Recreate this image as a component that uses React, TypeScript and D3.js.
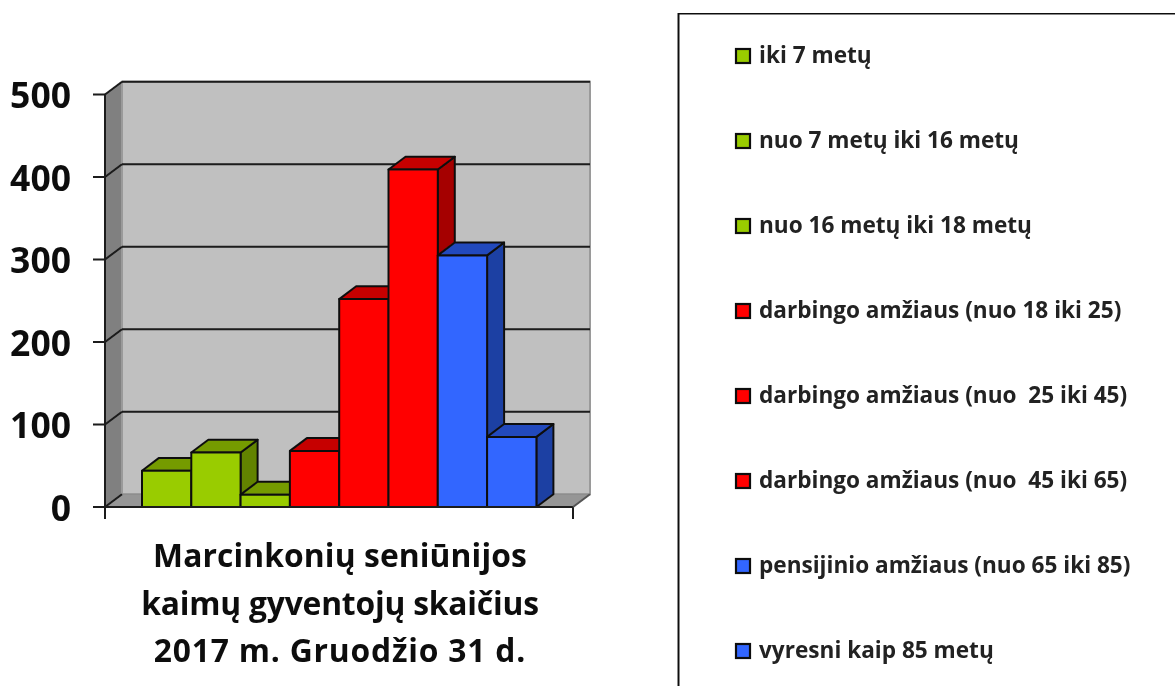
import React from "react";
import * as d3 from "d3";

const seriesNames = [
  "iki 7 metų",
  "nuo 7 metų iki 16 metų",
  "nuo 16 metų iki 18 metų",
  "darbingo amžiaus (nuo 18 iki 25)",
  "darbingo amžiaus (nuo  25 iki 45)",
  "darbingo amžiaus (nuo  45 iki 65)",
  "pensijinio amžiaus (nuo 65 iki 85)",
  "vyresni kaip 85 metų",
];
const seriesValues = [44, 66, 15, 68, 252, 409, 305, 85];
const seriesGroups = ["g", "g", "g", "r", "r", "r", "b", "b"];
const yTicks = [0, 100, 200, 300, 400, 500];
const titleLines = [
  "Marcinkonių seniūnijos",
  "kaimų gyventojų skaičius",
  "2017 m. Gruodžio 31 d.",
];
const titleSpacing = [0.1, -0.2, 0.8];

const palette: Record<string, { front: string; top: string; side: string }> = {
  g: { front: "#99cc00", top: "#749b00", side: "#628300" },
  r: { front: "#ff0000", top: "#c60000", side: "#a50000" },
  b: { front: "#3366ff", top: "#2449bd", side: "#1f3fa3" },
};

const FONT = "'Open Sans', 'Noto Sans', sans-serif";
const DX = 17;
const DY = -12.8;
const STROKE = "#1a1a1a";

const y = d3.scaleLinear().domain([0, 500]).range([507, 94.5]);
const xFrame = { left: 105, right: 573 };
const x = d3
  .scaleBand<number>()
  .domain(d3.range(seriesValues.length))
  .range([142, 536.4]);
const legendY = d3
  .scalePoint<number>()
  .domain(d3.range(seriesNames.length))
  .range([55, 650]);

const poly = (pts: [number, number][]) => pts.map((p) => p.join(",")).join(" ");

export default function App() {
  const base = y(0);
  const top = y(500);
  return (
    <svg
      width={1175}
      height={686}
      style={{ position: "absolute", left: 0, top: 0, display: "block", background: "#fff" }}
    >
      <defs>
        <filter id="soft" x="0" y="0" width="100%" height="100%">
          <feGaussianBlur stdDeviation="0.45" />
        </filter>
      </defs>
      <g filter="url(#soft)">
        {/* left wall */}
        <polygon
          points={poly([
            [xFrame.left, base],
            [xFrame.left + DX, base + DY],
            [xFrame.left + DX, top + DY],
            [xFrame.left, top],
          ])}
          fill="#808080"
        />
        {/* back wall */}
        <rect
          x={xFrame.left + DX}
          y={top + DY}
          width={xFrame.right - xFrame.left}
          height={base - top}
          fill="#c0c0c0"
          stroke="#9a9a9a"
          strokeWidth={2}
        />
        {/* floor */}
        <polygon
          points={poly([
            [xFrame.left, base],
            [xFrame.right, base],
            [xFrame.right + DX, base + DY],
            [xFrame.left + DX, base + DY],
          ])}
          fill="#969696"
          stroke="#8a8a8a"
        />
        {/* gridlines */}
        {yTicks.map((t) => (
          <g key={t} fill="none" stroke={STROKE} strokeWidth={2}>
            <line x1={xFrame.left - 12} x2={xFrame.left} y1={y(t)} y2={y(t)} />
            <line x1={xFrame.left} x2={xFrame.left + DX} y1={y(t)} y2={y(t) + DY} />
            {t > 0 && (
              <line x1={xFrame.left + DX} x2={xFrame.right + DX} y1={y(t) + DY} y2={y(t) + DY} />
            )}
          </g>
        ))}
        {/* axis */}
        <line x1={xFrame.left} x2={xFrame.left} y1={top} y2={base + 12} stroke={STROKE} strokeWidth={2} />
        {/* bars */}
        {seriesValues.map((v, i) => {
          const x0 = x(i)!;
          const x1 = x0 + x.bandwidth();
          const yv = y(v);
          const c = palette[seriesGroups[i]];
          return (
            <g key={i} stroke="#111" strokeWidth={2} strokeLinejoin="round">
              <polygon
                points={poly([
                  [x1, base],
                  [x1 + DX, base + DY],
                  [x1 + DX, yv + DY],
                  [x1, yv],
                ])}
                fill={c.side}
              />
              <polygon
                points={poly([
                  [x0, yv],
                  [x0 + DX, yv + DY],
                  [x1 + DX, yv + DY],
                  [x1, yv],
                ])}
                fill={c.top}
              />
              <rect x={x0} y={yv} width={x1 - x0} height={base - yv} fill={c.front} />
            </g>
          );
        })}
        {/* base axis on top */}
        <g stroke={STROKE} strokeWidth={2}>
          <line x1={xFrame.left} x2={xFrame.right} y1={base} y2={base} />
          <line x1={xFrame.right} x2={xFrame.right} y1={base} y2={base + 12} />
          <line x1={xFrame.right} x2={xFrame.right + DX} y1={base} y2={base + DY} stroke="#555" />
        </g>
        {/* y labels */}
        {yTicks.map((t) => (
          <text
            key={t}
            x={71}
            y={y(t) + 13.5}
            textAnchor="end"
            fontFamily={FONT}
            fontWeight={700}
            fontSize={35.5}
            fill="#111"
          >
            {t}
          </text>
        ))}
        {/* title */}
        {titleLines.map((l, i) => (
          <text
            key={l}
            x={340}
            y={567 + i * 47.5}
            textAnchor="middle"
            fontFamily={FONT}
            fontWeight={700}
            fontSize={31.8}
            letterSpacing={titleSpacing[i]}
            fill="#111"
          >
            {l}
          </text>
        ))}
        {/* legend */}
        <rect x={678.5} y={13.5} width={520} height={700} fill="#fff" stroke="#111" strokeWidth={2} />
        {seriesNames.map((n, i) => {
          const ly = legendY(i)!;
          return (
            <g key={i}>
              <rect
                x={736}
                y={ly - 6}
                width={14}
                height={14}
                fill={palette[seriesGroups[i]].front}
                stroke="#111"
                strokeWidth={2.2}
              />
              <text
                x={759}
                y={ly + 8}
                xmlSpace="preserve"
                style={{ whiteSpace: "pre" }}
                fontFamily={FONT}
                fontWeight={700}
                fontSize={22.6}
                fill="#222"
              >
                {n}
              </text>
            </g>
          );
        })}
      </g>
    </svg>
  );
}
